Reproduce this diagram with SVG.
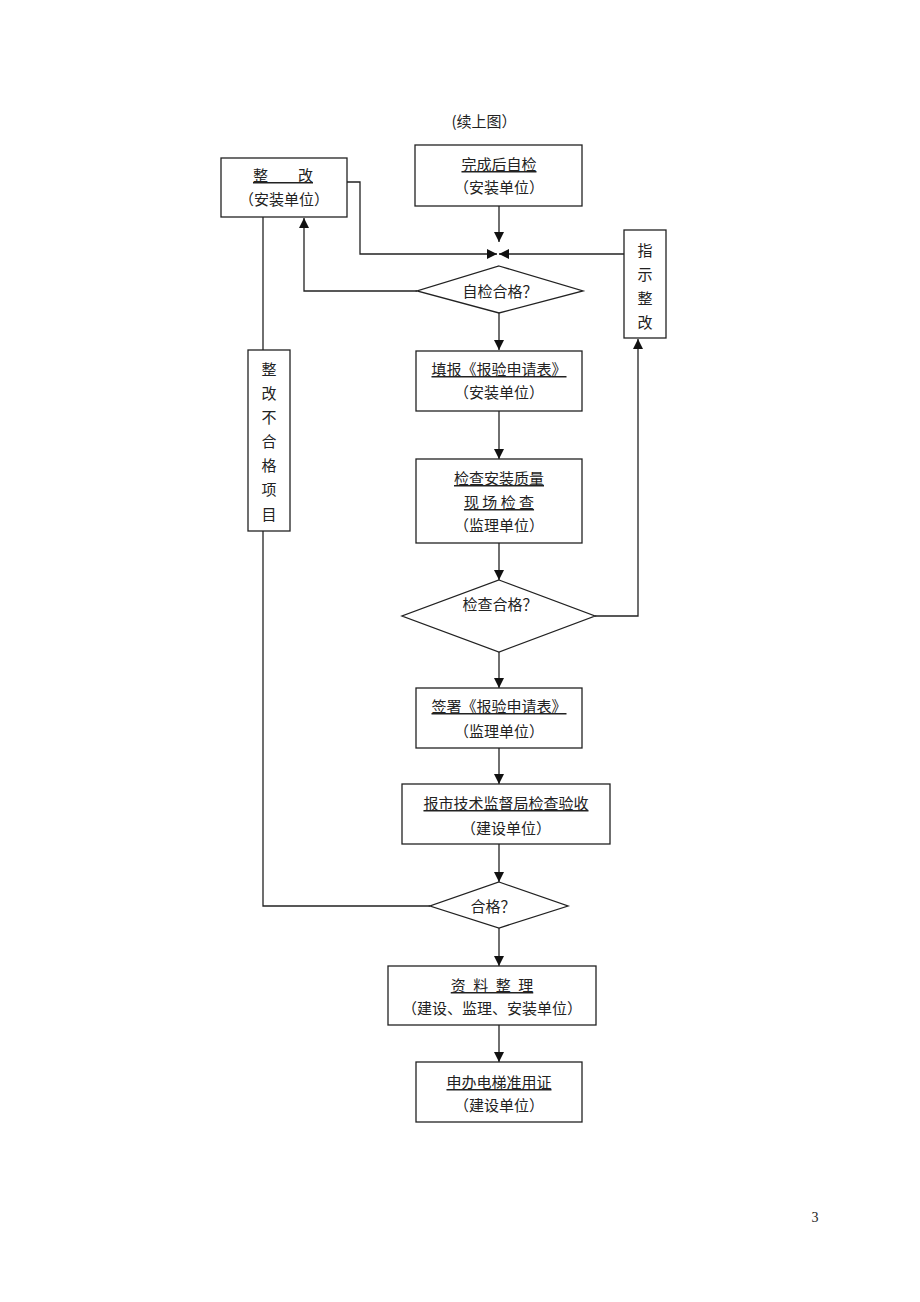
<svg xmlns="http://www.w3.org/2000/svg" width="920" height="1302" viewBox="0 0 920 1302">
<style>
.box{fill:#fff;stroke:#222;stroke-width:1.3}
.ln{fill:none;stroke:#222;stroke-width:1.3}
text{font-family:"Noto Sans CJK SC","Noto Sans",sans-serif;font-size:15px;fill:#222;text-anchor:middle;text-spacing-trim:space-all}
.u{text-decoration:underline}
</style>
<defs>
<marker id="ah" markerUnits="userSpaceOnUse" markerWidth="10" markerHeight="10" refX="10" refY="5" orient="auto">
<path d="M0,0 L10,5 L0,10 z" fill="#111"/>
</marker>
</defs>
<rect width="920" height="1302" fill="#fff"/>
<text id="title" x="484" y="127">(续上图）</text>

<g id="connectors">
<path class="ln" d="M499,206 V242" marker-end="url(#ah)"/>
<path class="ln" d="M347,182 H360 V254 H497" marker-end="url(#ah)"/>
<path class="ln" d="M624,254 H499" marker-end="url(#ah)"/>
<path class="ln" d="M417,291 H304 V218" marker-end="url(#ah)"/>
<path class="ln" d="M499,313 V350" marker-end="url(#ah)"/>
<path class="ln" d="M499,411 V459" marker-end="url(#ah)"/>
<path class="ln" d="M499,543 V580" marker-end="url(#ah)"/>
<path class="ln" d="M595,616 H638 V339" marker-end="url(#ah)"/>
<path class="ln" d="M499,652 V688" marker-end="url(#ah)"/>
<path class="ln" d="M499,748 V784" marker-end="url(#ah)"/>
<path class="ln" d="M499,844 V882" marker-end="url(#ah)"/>
<path class="ln" d="M263,217 V350"/>
<path class="ln" d="M263,531 V906 H430"/>
<path class="ln" d="M499,928 V966" marker-end="url(#ah)"/>
<path class="ln" d="M499,1025 V1062" marker-end="url(#ah)"/>
</g>

<g id="zhenggai">
<rect class="box" x="221" y="158" width="126" height="59"/>
<text class="u" x="283" y="181" xml:space="preserve">整　　改</text>
<text x="284" y="205">（安装单位）</text>
</g>
<g id="wancheng">
<rect class="box" x="415" y="145" width="167" height="61"/>
<text class="u" x="499" y="170">完成后自检</text>
<text x="499" y="193">（安装单位）</text>
</g>
<g id="zhishi">
<rect class="box" x="624" y="230" width="42" height="108"/>
<text x="645" y="256">指</text>
<text x="645" y="280">示</text>
<text x="645" y="304">整</text>
<text x="645" y="328">改</text>
</g>
<g id="d1">
<polygon class="box" points="499,266 583,291 499,313 417,291"/>
<text x="500" y="297">自检合格？</text>
</g>
<g id="tianbao">
<rect class="box" x="416" y="351" width="166" height="60"/>
<text class="u" x="499" y="375">填报《报验申请表》</text>
<text x="499" y="398">（安装单位）</text>
</g>
<g id="buhege">
<rect class="box" x="248" y="350" width="42" height="181"/>
<text x="269" y="375">整</text>
<text x="269" y="399">改</text>
<text x="269" y="423">不</text>
<text x="269" y="447">合</text>
<text x="269" y="471">格</text>
<text x="269" y="495">项</text>
<text x="269" y="520">目</text>
</g>
<g id="jiancha">
<rect class="box" x="416" y="459" width="166" height="84"/>
<text class="u" x="499" y="484">检查安装质量</text>
<text class="u" x="499" y="508" xml:space="preserve">现 场 检 查</text>
<text x="499" y="531">（监理单位）</text>
</g>
<g id="d2">
<polygon class="box" points="499,580 595,616 499,652 402,616"/>
<text x="500" y="610">检查合格？</text>
</g>
<g id="qianshu">
<rect class="box" x="416" y="688" width="166" height="60"/>
<text class="u" x="499" y="712">签署《报验申请表》</text>
<text x="499" y="737">（监理单位）</text>
</g>
<g id="baoshi">
<rect class="box" x="402" y="784" width="208" height="60"/>
<text class="u" x="506" y="809">报市技术监督局检查验收</text>
<text x="506" y="834">（建设单位）</text>
</g>
<g id="d3">
<polygon class="box" points="499,882 568,906 499,928 430,906"/>
<text x="493" y="912">合格？</text>
</g>
<g id="ziliao">
<rect class="box" x="388" y="966" width="208" height="59"/>
<text class="u" x="492" y="991" xml:space="preserve">资&#8194;料&#8194;整&#8194;理</text>
<text x="492" y="1014">（建设、监理、安装单位）</text>
</g>
<g id="shenban">
<rect class="box" x="416" y="1062" width="166" height="60"/>
<text class="u" x="499" y="1088">申办电梯准用证</text>
<text x="499" y="1111">（建设单位）</text>
</g>
<text id="page" x="815" y="1222" style="font-family:'Liberation Serif',serif;font-size:14px">3</text>
</svg>
